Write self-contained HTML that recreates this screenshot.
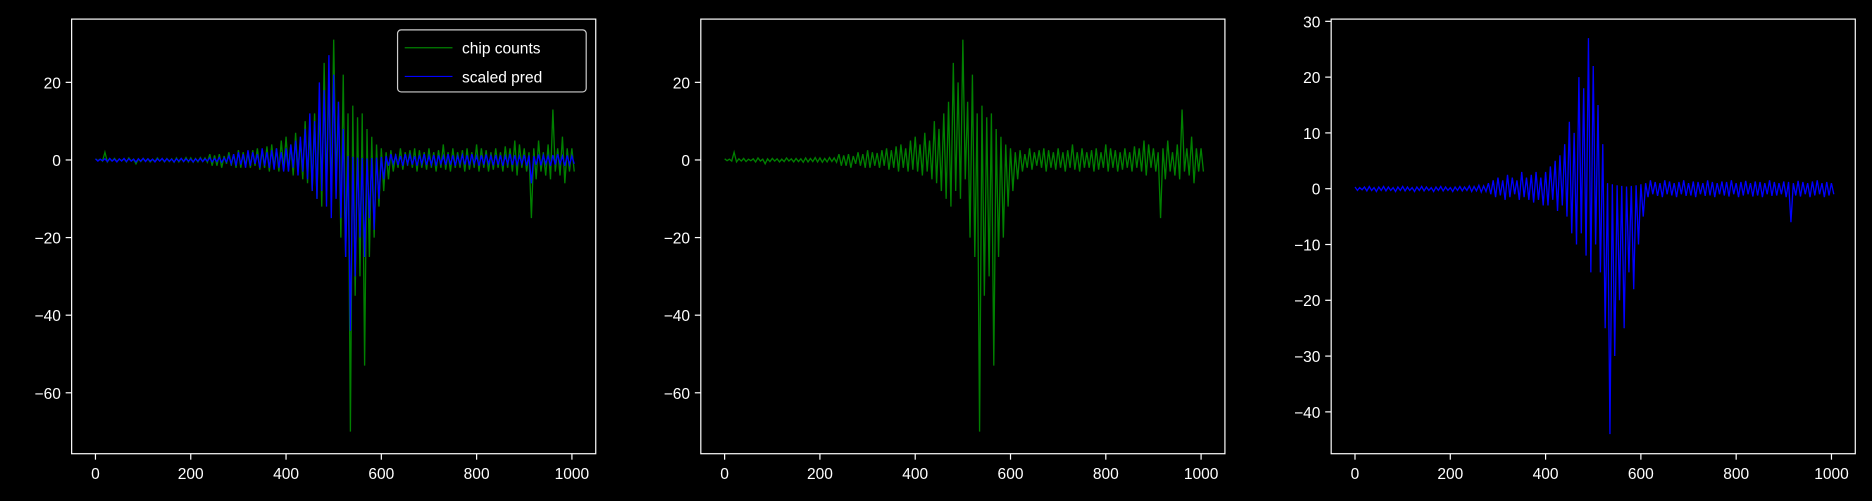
<!DOCTYPE html>
<html><head><meta charset="utf-8"><style>
body{margin:0;background:#000;}
svg{display:block;font-family:"Liberation Sans","DejaVu Sans",sans-serif;}
text{fill:#fff;font-size:13px;}
</style></head><body>
<svg id="chart" width="1872" height="501" viewBox="0 0 1568 419.6" preserveAspectRatio="none">
<rect width="1568" height="420" fill="#000"/>
</svg>
<script>
const xTicks=[0,200,400,600,800,1000];
const yTicksA=[20,0,-20,-40,-60];
const yTicksC=[30,20,10,0,-10,-20,-30,-40];
const greenHi=[0.3,0.2,2,0.3,0.4,0.2,0.3,0.5,0.2,0.3,0.4,0.3,0.2,0.5,0.3,0.4,0.3,0.5,0.4,0.6,0.5,0.4,0.6,0.5,1.5,1.2,1.5,1,2,1.5,2.5,2,1.8,2.5,3,2.5,3.5,4,3,5,6,4,7,5,10,8,12,15,25,20,31,15,22,12,14,11,12,8,6,4,3,2,2.5,1.5,3,2,2.5,3,2.5,2,3,2,2.5,4,2,3,2,2.5,3,2,4,3,2.5,2,3,2,3.5,3,5,4,3,2,3,5,2,4,13,3,6,3,3];
const greenLo=[-0.2,-0.3,-0.5,-0.3,-0.4,-0.2,-0.5,-0.3,-1,-0.4,-0.3,-0.5,-0.4,-0.3,-0.5,-0.4,-0.6,-0.5,-0.4,-0.5,-0.6,-0.5,-0.4,-0.6,-1.5,-1.5,-2,-1,-1.5,-2,-2,-1.5,-2,-1.5,-2.5,-2,-3,-2,-3,-2.5,-3,-4,-3,-5,-6,-8,-10,-12,-8,-10,-5,-20,-25,-70,-35,-30,-53,-25,-20,-12,-8,-5,-3,-2,-2.5,-1.5,-2,-3,-2,-2.5,-2,-3,-2,-2.5,-3,-2,-2,-3,-2.5,-2,-3,-2,-3,-2.5,-2,-3,-2,-3,-4,-2,-3,-15,-5,-3,-4,-5,-3,-4,-6,-3,-3];
const blueHi=[0.3,0.2,0.3,0.4,0.2,0.3,0.4,0.3,0.2,0.3,0.4,0.3,0.2,0.3,0.4,0.3,0.2,0.3,0.4,0.3,0.2,0.3,0.4,0.3,0.5,0.4,0.6,0.5,1,1.5,2,1.5,2.5,2,1.5,3,2,2.5,3,2,3,4,5,6,8,12,10,20,18,27,22,15,8,1,0.8,0.6,0.5,0.4,0.5,0.6,0.8,1,1.5,1.2,1,1.5,1.3,1,1.2,1.5,1,1.3,1.2,1,1.5,1.2,1,1.3,1.2,1.5,1,1.2,1.4,1,1.3,1.2,1,1.5,1.2,1,1.3,1.2,1,1.4,1.2,1,1.3,1.5,1,1.2,1];
const blueLo=[-0.3,-0.2,-0.4,-0.3,-0.5,-0.3,-0.4,-0.3,-0.5,-0.3,-0.4,-0.3,-0.5,-0.3,-0.4,-0.3,-0.5,-0.3,-0.4,-0.3,-0.5,-0.3,-0.4,-0.3,-0.5,-0.4,-0.6,-0.5,-1,-1.5,-1.2,-2,-1.5,-1,-2,-1.5,-2,-2.5,-2,-3,-3,-2,-4,-3,-5,-8,-10,-8,-12,-15,-10,-15,-25,-44,-30,-20,-25,-15,-18,-10,-5,-1.5,-1,-1.3,-1.5,-1,-1.2,-1.5,-1,-1.3,-1.2,-1.5,-1,-1.3,-1.2,-1.5,-1,-1.2,-1.4,-1,-1.5,-1.2,-1,-1.4,-1.2,-1.5,-1,-1.3,-1.2,-1,-1.5,-6,-1.2,-1.4,-1,-1.5,-1.2,-1,-1.5,-1.2,-1];
const NS='http://www.w3.org/2000/svg';
const svg=document.getElementById('chart');
function mk(tag,attrs,parent){const e=document.createElementNS(NS,tag);for(const k in attrs)e.setAttribute(k,attrs[k]);(parent||svg).appendChild(e);return e;}
function fmt(v){return v<0?'\u2212'+(-v):String(v);}
function path(hi,lo,sx,sy){const n=Math.min(hi.length,lo.length);let d='';for(let k=0;k<n;k++){const x0=k/(n-1)*1000;d+=(k?'L':'M')+sx(x0).toFixed(1)+','+sy(hi[k]).toFixed(1);d+='L'+sx(x0+5).toFixed(1)+','+sy(lo[k]).toFixed(1);}return d;}
function panel(idx,left,right,ymin,ymax,yt,series){
 const top=16,bot=380;
 const g=mk('g',{});
 
 
 const sx=v=>left+(v+50)/1100*(right-left);
 const sy=v=>top+(ymax-v)/(ymax-ymin)*(bot-top);
 series.forEach(s=>{const p=mk('path',{d:path(s.hi,s.lo,sx,sy),fill:'none',stroke:s.c,'stroke-width':1.1,'stroke-linejoin':'miter'},g);
  
  });
 const fr=mk('rect',{x:left,y:top,width:right-left,height:bot-top,fill:'none',stroke:'#fff','stroke-width':1},g);
 
 
 xTicks.forEach(t=>{const x=sx(t);mk('line',{x1:x,x2:x,y1:bot,y2:bot+5,stroke:'#fff'},g);
  const tx=mk('text',{x:x,y:bot+21,'text-anchor':'middle'},g);tx.textContent=fmt(t);
  
  });
 yt.forEach(t=>{const y=sy(t);mk('line',{x1:left-5,x2:left,y1:y,y2:y,stroke:'#fff'},g);
  const tx=mk('text',{x:left-9,y:y+5,'text-anchor':'end'},g);tx.textContent=fmt(t);
  
  });
}
panel(1,60,499,-75.7,36.3,yTicksA,[{hi:greenHi,lo:greenLo,c:'#008000',name:'chip-counts'},{hi:blueHi,lo:blueLo,c:'#0000ff',name:'scaled-pred'}]);
panel(2,587,1026,-75.7,36.3,yTicksA,[{hi:greenHi,lo:greenLo,c:'#008000',name:'chip-counts'}]);
panel(3,1115,1554,-47.5,30.4,yTicksC,[{hi:blueHi,lo:blueLo,c:'#0000ff',name:'scaled-pred'}]);
const lg=mk('g',{});


mk('rect',{x:333,y:25,width:158,height:52,rx:3,fill:'#000',stroke:'#ccc','stroke-width':1},lg);
mk('line',{x1:339,x2:379,y1:40,y2:40,stroke:'#008000','stroke-width':1},lg);
mk('line',{x1:339,x2:379,y1:64,y2:64,stroke:'#0000ff','stroke-width':1},lg);
const l1=mk('text',{x:387,y:45},lg);l1.textContent='chip counts';


const l2=mk('text',{x:387,y:69},lg);l2.textContent='scaled pred';


</script>
</body></html>
